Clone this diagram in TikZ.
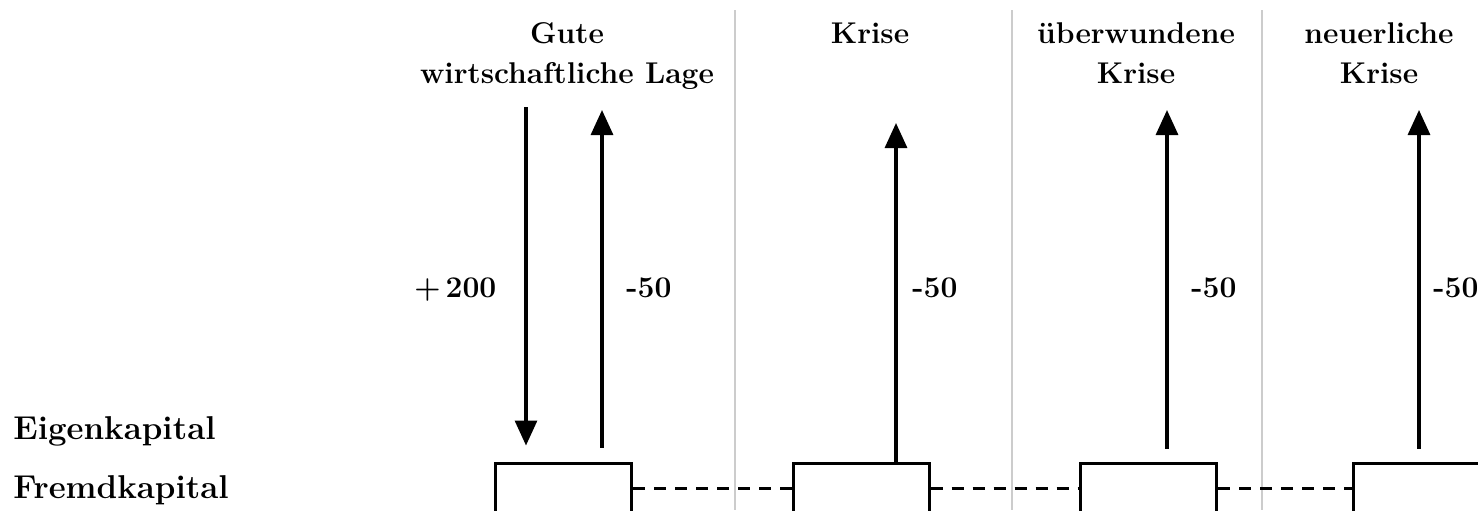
\documentclass[tikz,border=0pt]{standalone}
\usetikzlibrary{arrows.meta}

\begin{document}
\begin{tikzpicture}[x=0.5pt,y=-0.5pt,
  kopf/.style={font=\fontsize{15}{20}\selectfont\bfseries, align=center, anchor=base, inner sep=0pt},
  zahl/.style={font=\fontsize{15}{18}\selectfont\bfseries, anchor=base west, inner sep=0pt},
  seite/.style={font=\fontsize{16.5}{20}\selectfont\bfseries, anchor=base west, inner sep=0pt},
  konto/.style={draw, line width=1.5pt, minimum width=68pt, minimum height=25pt, inner sep=0pt},
  pfeil/.style={line width=1.6pt, -{Triangle[width=11pt,length=12.5pt]}},
  trenner/.style={black!20, line width=0.6pt},
  strich/.style={line width=1.5pt, dash pattern=on 6pt off 4.5pt}]

\useasboundingbox (0,0) rectangle (1478,510);
\clip (0,0) rectangle (1478,510);

% Trennlinien zwischen den Phasen
\draw[trenner] (735,10) -- (735,510);
\draw[trenner] (1012,10) -- (1012,510);
\draw[trenner] (1262,10) -- (1262,510);

% Ueberschriften (base = letzte Zeile)
\node[kopf] (gut) at (567,83) {Gute\\wirtschaftliche Lage};
\node[kopf] (kr) at (870,43) {Krise};
\node[kopf] (uk) at (1136,83) {überwundene\\Krise};
\node[kopf] (nk) at (1379,83) {neuerliche\\Krise};

% Bilanzseiten
\node[seite] (ek) at (13,439) {Eigenkapital};
\node[seite] (fk) at (13,498) {Fremdkapital};

% Konten
\node[konto] (b1) at (563.5,488) {};
\node[konto] (b2) at (861,488) {};
\node[konto] (b3) at (1148.5,488) {};
\node[konto] (b4) at (1421.5,488) {};

\draw[strich] (b1.east) -- (b2.west);
\draw[strich] (b2.east) -- (b3.west);
\draw[strich] (b3.east) -- (b4.west);

% Zu- und Abfluesse
\coordinate (z1) at (526,107);
\coordinate (t1) at (602,110);
\coordinate (t2) at (896,123);
\coordinate (t3) at (1167,110);
\coordinate (t4) at (1419,110);

\draw[pfeil, shorten >=8pt] (z1) -- (z1 |- b1.north);
\draw[pfeil, shorten <=7pt] (t1 |- b1.north) -- (t1);
\draw[pfeil] (t2 |- b2.north) -- (t2);
\draw[pfeil, shorten <=6.5pt] (t3 |- b3.north) -- (t3);
\draw[pfeil, shorten <=6.5pt] (t4 |- b4.north) -- (t4);

\node[zahl] (p1) at (414,297) {+\kern2.5pt200};
\node[zahl] (m1) at (626,297) {-50};
\node[zahl] (m2) at (912,297) {-50};
\node[zahl] (m3) at (1191,297) {-50};
\node[zahl] (m4) at (1433,297) {-50};

\end{tikzpicture}
\end{document}
